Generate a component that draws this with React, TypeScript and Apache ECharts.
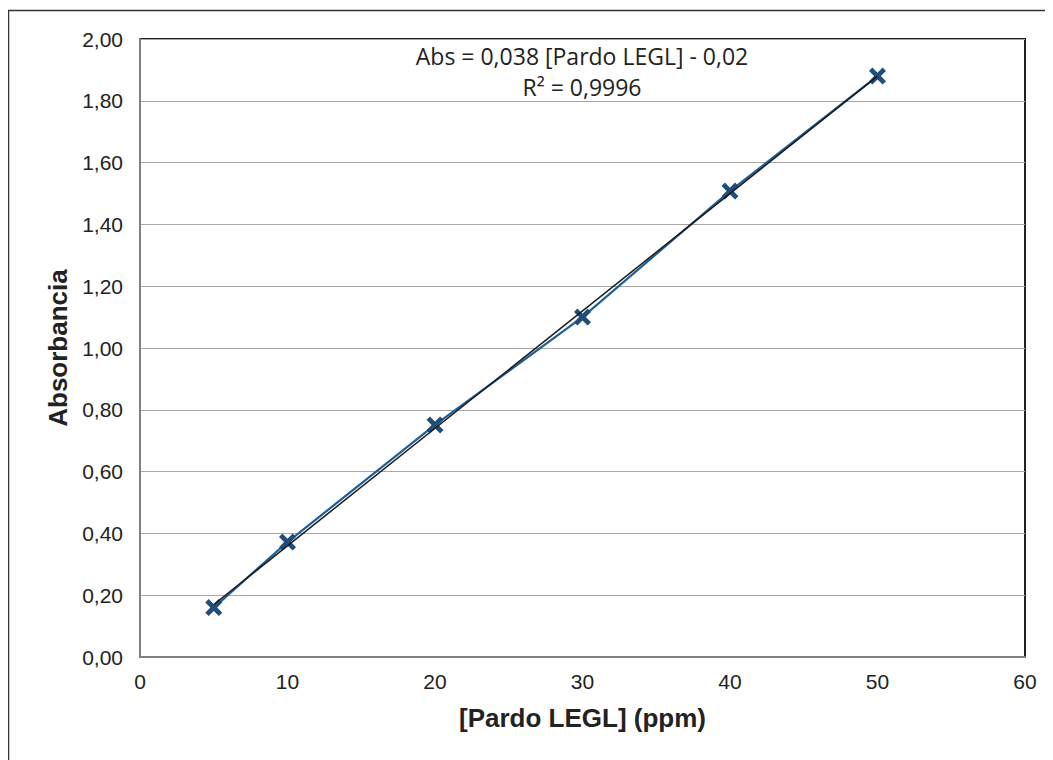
import React, { useEffect, useRef } from "react";
import * as echarts from "echarts";

const concentrations = [5, 10, 20, 30, 40, 50];
const absorbances = [0.16, 0.372, 0.751, 1.1, 1.508, 1.88];
const trendX = [5, 50];
const trendY = [0.17, 1.88];
const equationLines = ["Abs = 0,038 [Pardo LEGL] - 0,02", "R² = 0,9996"];
const xAxisTitle = "[Pardo LEGL] (ppm)";
const yAxisTitle = "Absorbancia";

const crossPath =
  "path://M0,4 L4,0 L10,6 L16,0 L20,4 L14,10 L20,16 L16,20 L10,14 L4,20 L0,16 L6,10 Z";

export default function App() {
  const ref = useRef<HTMLDivElement>(null);
  useEffect(() => {
    if (!ref.current) return;
    const chart = echarts.init(ref.current, null, { renderer: "svg" });
    const fmt = (v: number) => v.toFixed(2).replace(".", ",");
    chart.setOption({
      animation: false,
      backgroundColor: "#ffffff",
      grid: {
        left: 132,
        top: 31,
        right: 28,
        bottom: 103,
        show: true,
        borderColor: "#222",
        borderWidth: 2,
        backgroundColor: "transparent",
      },
      xAxis: {
        type: "value",
        min: 0,
        max: 60,
        interval: 10,
        name: xAxisTitle,
        nameLocation: "middle",
        nameGap: 48,
        nameTextStyle: { fontFamily: "Liberation Sans", fontWeight: "bold", fontSize: 26, color: "#222" },
        axisLine: { show: true, lineStyle: { color: "#808080", width: 2 } },
        axisTick: { show: false },
        axisLabel: { fontFamily: "Liberation Sans", fontSize: 21, color: "#222", margin: 14 },
        splitLine: { show: false },
      },
      yAxis: {
        type: "value",
        min: 0,
        max: 2,
        interval: 0.2,
        name: yAxisTitle,
        nameLocation: "middle",
        nameGap: 67,
        nameTextStyle: { fontFamily: "Liberation Sans", fontWeight: "bold", fontSize: 26, color: "#222" },
        axisLine: { show: true, lineStyle: { color: "#808080", width: 2 } },
        axisTick: { show: false },
        axisLabel: { fontFamily: "Liberation Sans", fontSize: 21, color: "#222", margin: 17, formatter: fmt },
        splitLine: { show: true, lineStyle: { color: "#a6a6a6", width: 1 } },
      },
      series: [
        {
          type: "line",
          data: trendX.map((x, i) => [x, trendY[i]]),
          symbol: "none",
          lineStyle: { color: "#1a1a1a", width: 1.5 },
          z: 3,
        },
        {
          type: "line",
          data: concentrations.map((x, i) => [x, absorbances[i]]),
          symbol: crossPath,
          symbolSize: 17,
          itemStyle: { color: "#1f4e7a", borderWidth: 0 },
          lineStyle: { color: "#1f5f98", width: 2.2 },
          z: 2,
        },
      ],
      graphic: [
        {
          type: "rect",
          shape: { x: 0.5, y: 2.5, width: 1200, height: 900 },
          style: { fill: "none", stroke: "#333", lineWidth: 1.5 },
          silent: true,
        },
        {
          type: "text",
          x: 574,
          y: 32,
          style: {
            text: equationLines.join("\n"),
            fontFamily: "Open Sans",
            fontSize: 23,
            lineHeight: 31,
            fill: "#222",
            align: "center",
          },
        },
      ],
    });
    return () => chart.dispose();
  }, []);
  return <div ref={ref} style={{ width: 1045, height: 752 }} />;
}
